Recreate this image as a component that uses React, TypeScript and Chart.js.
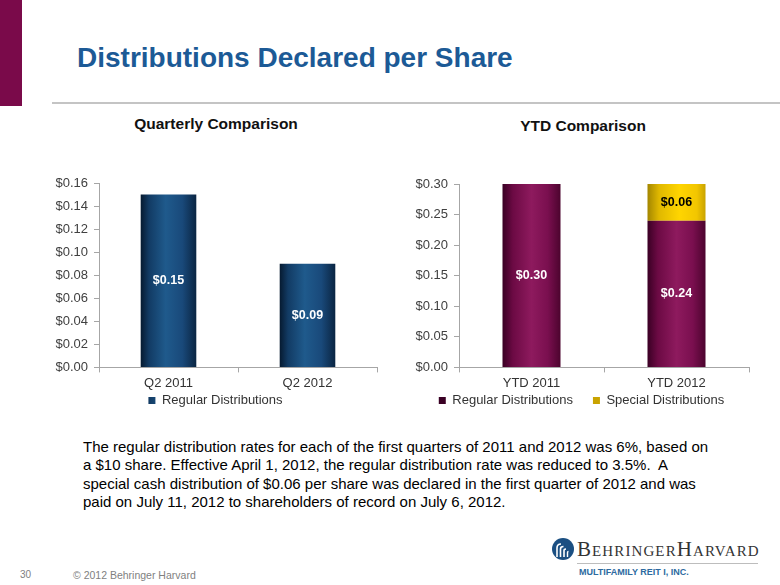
import React, { useEffect, useRef } from "react";
import { Chart, registerables } from "chart.js";

Chart.register(...registerables);

const FONT = "'Liberation Sans', Arial, sans-serif";

// Quarterly chart data
const quarterCategories = ["Q2 2011", "Q2 2012"];
const quarterRegular = [0.15, 0.09];
const quarterTicks = { min: 0, max: 0.16, step: 0.02 };

// YTD chart data
const ytdCategories = ["YTD 2011", "YTD 2012"];
const ytdRegular = [0.3, 0.24];
const ytdSpecial = [null, 0.06];
const ytdTicks = { min: 0, max: 0.3, step: 0.05 };

const BLUE_STOPS: [number, string][] = [
  [0, "#061a30"], [0.15, "#123b64"], [0.45, "#1f5a8c"], [0.75, "#19497a"], [1, "#0a2542"],
];
const MAGENTA_STOPS: [number, string][] = [
  [0, "#3a0024"], [0.18, "#6c0a44"], [0.5, "#8e1a5e"], [0.78, "#7a0f4f"], [1, "#4c042e"],
];
const YELLOW_STOPS: [number, string][] = [
  [0, "#a38600"], [0.2, "#e0b800"], [0.55, "#ffd500"], [0.85, "#f2c600"], [1, "#c9a300"],
];

function barGradient(stops: [number, string][], solid: string) {
  return (c: any) => {
    if (c.type !== "data") return solid;
    const chart = c.chart;
    const xs = chart.scales && chart.scales.x;
    if (!xs || !chart.chartArea || c.dataIndex == null) return solid;
    const cx = xs.getPixelForValue(c.dataIndex);
    const w = (xs.width / chart.data.labels.length) * 0.4;
    const g = chart.ctx.createLinearGradient(cx - w / 2, 0, cx + w / 2, 0);
    stops.forEach(([o, col]) => g.addColorStop(o, col));
    return g;
  };
}

const valueLabels = {
  id: "valueLabels",
  afterDatasetsDraw(chart: any) {
    const ctx = chart.ctx;
    chart.data.datasets.forEach((ds: any, i: number) => {
      const meta = chart.getDatasetMeta(i);
      meta.data.forEach((el: any, j: number) => {
        const v = ds.data[j];
        if (v == null || v === 0) return;
        ctx.save();
        ctx.fillStyle = ds.labelColor || "#fff";
        ctx.font = `bold 12.5px ${FONT}`;
        ctx.textAlign = "center";
        ctx.textBaseline = "middle";
        ctx.fillText("$" + v.toFixed(2), el.x, (el.y + el.base) / 2);
        ctx.restore();
      });
    });
  },
};

// moves the legend row up, closer to the category labels
const legendShift = {
  id: "legendShift",
  afterLayout(chart: any) {
    const l = chart.legend;
    if (l) {
      l.top -= 20;
      l.bottom -= 20;
    }
  },
};

function makeOptions(ticks: { min: number; max: number; step: number }, stacked: boolean, padding: any) {
  return {
    responsive: false,
    animation: false as const,
    layout: { padding },
    plugins: {
      legend: {
        position: "bottom" as const,
        labels: {
          boxWidth: 7,
          boxHeight: 7,
          padding: 20,
          color: "#333",
          font: { size: 13, family: FONT },
        },
      },
      tooltip: { enabled: false },
      title: { display: false },
    },
    scales: {
      x: {
        stacked,
        offset: true,
        grid: { display: true, drawOnChartArea: false, drawTicks: true, tickLength: 5, color: "#a6a6a6", offset: true },
        border: { color: "#a6a6a6", width: 1 },
        ticks: { color: "#333", font: { size: 13, family: FONT }, padding: 3 },
      },
      y: {
        stacked,
        min: ticks.min,
        max: ticks.max,
        grid: { display: true, drawOnChartArea: false, drawTicks: true, tickLength: 5, color: "#a6a6a6" },
        border: { color: "#a6a6a6", width: 1 },
        ticks: {
          stepSize: ticks.step,
          color: "#404040",
          font: { size: 13, family: FONT },
          padding: 6,
          callback: (v: any) => "$" + Number(v).toFixed(2),
        },
        afterFit: (s: any) => { s.width = 45; },
      },
    },
  };
}

function QuarterChart() {
  const ref = useRef<HTMLCanvasElement>(null);
  useEffect(() => {
    const chart = new Chart(ref.current!, {
      type: "bar",
      data: {
        labels: quarterCategories,
        datasets: [
          {
            label: "Regular Distributions",
            data: quarterRegular,
            backgroundColor: barGradient(BLUE_STOPS, "#1f4e79"),
            barPercentage: 0.4,
            categoryPercentage: 1,
            labelColor: "#ffffff",
          } as any,
        ],
      },
      options: makeOptions(quarterTicks, false, { left: 24, right: 31, top: 33, bottom: 0 }) as any,
      plugins: [valueLabels, legendShift],
    });
    return () => chart.destroy();
  }, []);
  return <canvas ref={ref} width={378} height={287} style={{ position: "absolute", left: 30, top: 150 }} />;
}

function YtdChart() {
  const ref = useRef<HTMLCanvasElement>(null);
  useEffect(() => {
    const chart = new Chart(ref.current!, {
      type: "bar",
      data: {
        labels: ytdCategories,
        datasets: [
          {
            label: "Regular Distributions",
            data: ytdRegular,
            backgroundColor: barGradient(MAGENTA_STOPS, "#7a0f4f"),
            barPercentage: 0.4,
            categoryPercentage: 1,
            labelColor: "#ffffff",
          } as any,
          {
            label: "Special Distributions",
            data: ytdSpecial,
            backgroundColor: barGradient(YELLOW_STOPS, "#ffcc00"),
            barPercentage: 0.4,
            categoryPercentage: 1,
            labelColor: "#000000",
          } as any,
        ],
      },
      options: makeOptions(ytdTicks, true, { left: 4, right: 13, top: 33, bottom: 0 }) as any,
      plugins: [valueLabels, legendShift],
    });
    return () => chart.destroy();
  }, []);
  return <canvas ref={ref} width={352} height={286} style={{ position: "absolute", left: 410, top: 151 }} />;
}

function Logo() {
  return (
    <div style={{ position: "absolute", left: 550, top: 536, width: 225, height: 45 }}>
      <svg width="24" height="24" style={{ position: "absolute", left: 1, top: 1 }} viewBox="0 0 24 24">
        <circle cx="12" cy="12" r="11" fill="#1b4f82" />
        <path d="M6 20 V11 Q6 7 10 7" stroke="#fff" strokeWidth="1.6" fill="none" />
        <path d="M9.5 20 V12 Q9.5 9.5 12.5 9.5" stroke="#fff" strokeWidth="1.6" fill="none" />
        <path d="M13 20 V13.5 Q13 12 15 12" stroke="#fff" strokeWidth="1.6" fill="none" />
        <path d="M16.5 20 V15.5 Q16.5 14.5 17.5 14.5" stroke="#fff" strokeWidth="1.4" fill="none" />
      </svg>
      <div
        style={{
          position: "absolute",
          left: 27,
          top: 2,
          fontFamily: "'Liberation Serif', 'DejaVu Serif', serif",
          fontSize: 21,
          fontVariant: "small-caps",
          color: "#333",
          lineHeight: "22px",
          whiteSpace: "nowrap",
          letterSpacing: "1.1px",
        }}
      >
        BehringerHarvard
      </div>
      <div style={{ position: "absolute", left: 27, top: 27, width: 181, height: 1, background: "#bdbdbd" }} />
      <div
        style={{
          position: "absolute",
          left: 29,
          top: 31,
          fontFamily: FONT,
          fontSize: 9,
          fontWeight: "bold",
          color: "#2c6aa0",
          whiteSpace: "nowrap",
          lineHeight: "11px",
        }}
      >
        MULTIFAMILY REIT I, INC.
      </div>
    </div>
  );
}

export default function App() {
  return (
    <div
      style={{
        position: "fixed",
        left: 0,
        top: 0,
        width: 780,
        height: 585,
        background: "#fff",
        overflow: "hidden",
        fontFamily: FONT,
      }}
    >
      <div style={{ position: "absolute", left: 0, top: 0, width: 22, height: 106, background: "#7a0a4a" }} />
      <div style={{ position: "absolute", left: 52, top: 102, width: 728, height: 2, background: "#c4c4c4" }} />
      <div
        style={{
          position: "absolute",
          left: 77,
          top: 42,
          fontSize: 28,
          fontWeight: "bold",
          color: "#1c5a96",
          lineHeight: "32px",
          whiteSpace: "nowrap",
        }}
      >
        Distributions Declared per Share
      </div>
      <div
        style={{
          position: "absolute",
          left: 116,
          width: 200,
          textAlign: "center",
          top: 114,
          fontSize: 15.5,
          fontWeight: "bold",
          color: "#111",
          lineHeight: "20px",
          whiteSpace: "nowrap",
        }}
      >
        Quarterly Comparison
      </div>
      <div
        style={{
          position: "absolute",
          left: 483,
          width: 200,
          textAlign: "center",
          top: 116,
          fontSize: 15.5,
          fontWeight: "bold",
          color: "#111",
          lineHeight: "20px",
          whiteSpace: "nowrap",
        }}
      >
        YTD Comparison
      </div>
      <QuarterChart />
      <YtdChart />
      <div
        style={{
          position: "absolute",
          left: 83,
          top: 437.5,
          fontSize: 15,
          color: "#000",
          lineHeight: "18.5px",
          whiteSpace: "nowrap",
        }}
      >
        The regular distribution rates for each of the first quarters of 2011 and 2012 was 6%, based on
        <br />
        a $10 share. Effective April 1, 2012, the regular distribution rate was reduced to 3.5%.&nbsp; A
        <br />
        special cash distribution of $0.06 per share was declared in the first quarter of 2012 and was
        <br />
        paid on July 11, 2012 to shareholders of record on July 6, 2012.
      </div>
      <div style={{ position: "absolute", left: 20, top: 569, fontSize: 10, color: "#7f7f7f", lineHeight: "12px" }}>30</div>
      <div style={{ position: "absolute", left: 73, top: 569, fontSize: 10.5, color: "#7f7f7f", lineHeight: "12px", whiteSpace: "nowrap" }}>
        © 2012 Behringer Harvard
      </div>
      <Logo />
    </div>
  );
}
